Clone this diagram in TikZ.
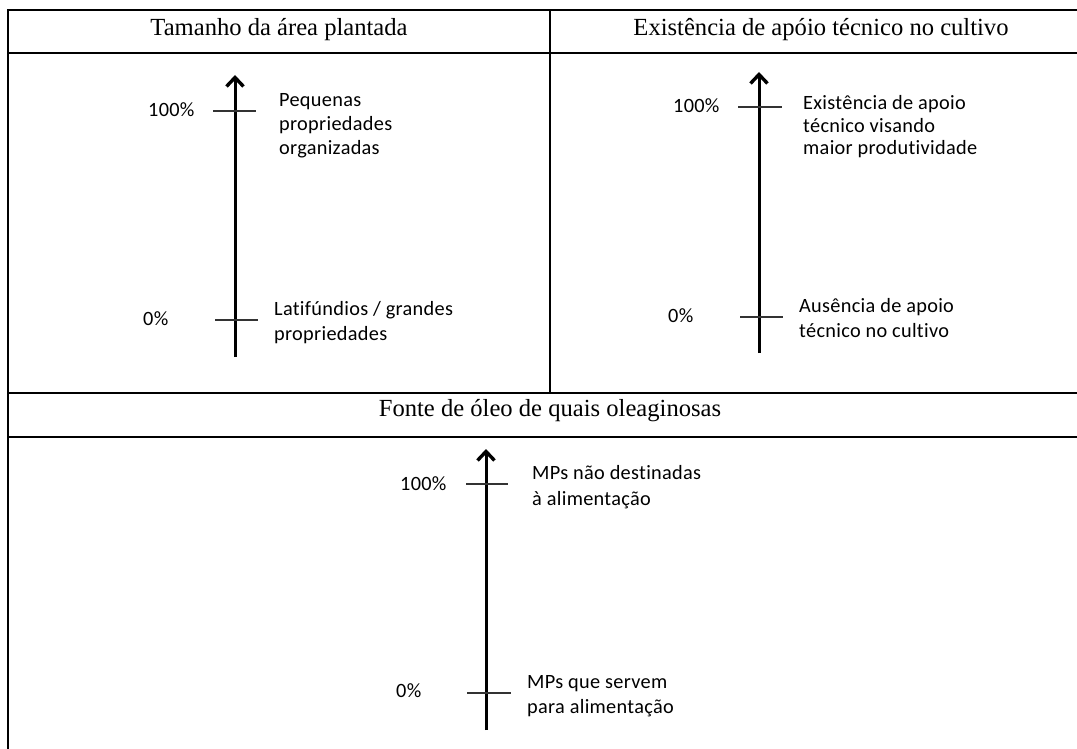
\documentclass[tikz,border=0pt]{standalone}
\usepackage{fontspec}
\setmainfont{Liberation Serif}
\newfontfamily\calib[Ligatures=NoCommon, LetterSpace=1.5]{Carlito}
\usetikzlibrary{arrows.meta}
\begin{document}
\begin{tikzpicture}[x=1pt,y=-1pt,
  grid/.style={line width=1.6pt, line cap=rect},
  axis/.style={line width=3pt, -{Straight Barb[length=9pt,width=17pt,line width=3.4pt 0]}},
  tickmark/.style={line width=1.7pt, draw=black!80},
  hdr/.style={font=\fontsize{24.6}{29}\selectfont, inner sep=0pt, anchor=base},
  lbl/.style={font=\calib\fontsize{20.3}{24}\selectfont, inner sep=0pt, anchor=base west, text=black},
]
\useasboundingbox (0,0) rectangle (1077,749);

% table lines
\draw[grid] (8,10) -- (1077,10);
\draw[grid] (8,53) -- (1077,53);
\draw[grid] (8,393) -- (1077,393);
\draw[grid] (8,437) -- (1077,437);
\draw[grid] (8,10) -- (8,749);
\draw[grid] (550,10) -- (550,393);

% headers
\node[hdr] (h1) at (279,36) {Tamanho da área plantada};
\node[hdr] (h2) at (821,36) {Existência de apóio técnico no cultivo};
\node[hdr] (h3) at (550,416) {Fonte de óleo de quais oleaginosas};

% ---- panel 1
\coordinate (a1b) at (235,357);
\coordinate (a1t) at (235,75);
\draw[axis] (a1b) -- (a1t);
\coordinate (t1hl) at (213,111); \coordinate (t1hr) at (256,111);
\coordinate (t1zl) at (215,320); \coordinate (t1zr) at (258,320);
\draw[tickmark] (t1hl) -- (t1hr);
\draw[tickmark] (t1zl) -- (t1zr);
\node[lbl] (p1h) at (148,117) {100\%};
\node[lbl] (p1z) at (143,325) {0\%};
\node[lbl] (p1a) at (279,107) {Pequenas};
\node[lbl] (p1b) at (279,131) {propriedades};
\node[lbl] (p1c) at (279,155) {organizadas};
\node[lbl] (p1d) at (274,315) {Latifúndios / grandes};
\node[lbl] (p1e) at (274,340) {propriedades};

% ---- panel 2
\coordinate (a2b) at (759,353);
\coordinate (a2t) at (759,72);
\draw[axis] (a2b) -- (a2t);
\coordinate (t2hl) at (738,107); \coordinate (t2hr) at (782,107);
\coordinate (t2zl) at (740,317); \coordinate (t2zr) at (783,317);
\draw[tickmark] (t2hl) -- (t2hr);
\draw[tickmark] (t2zl) -- (t2zr);
\node[lbl] (p2h) at (673,113) {100\%};
\node[lbl] (p2z) at (668,322) {0\%};
\node[lbl] (p2a) at (803,110) {Existência de apoio};
\node[lbl] (p2b) at (803,133) {técnico visando};
\node[lbl] (p2c) at (803,155) {maior produtividade};
\node[lbl] (p2d) at (799,312) {Ausência de apoio};
\node[lbl] (p2e) at (799,337) {técnico no cultivo};

% ---- panel 3
\coordinate (a3b) at (486,730);
\coordinate (a3t) at (486,449);
\draw[axis] (a3b) -- (a3t);
\coordinate (t3hl) at (466,484); \coordinate (t3hr) at (508,484);
\coordinate (t3zl) at (467,693); \coordinate (t3zr) at (511,693);
\draw[tickmark] (t3hl) -- (t3hr);
\draw[tickmark] (t3zl) -- (t3zr);
\node[lbl] (p3h) at (400,490) {100\%};
\node[lbl] (p3z) at (396,697) {0\%};
\node[lbl] (p3a) at (532,479) {MPs não destinadas};
\node[lbl] (p3b) at (532,505) {à alimentação};
\node[lbl] (p3c) at (527,688) {MPs que servem};
\node[lbl] (p3d) at (527,713) {para alimentação};
\end{tikzpicture}
\end{document}
